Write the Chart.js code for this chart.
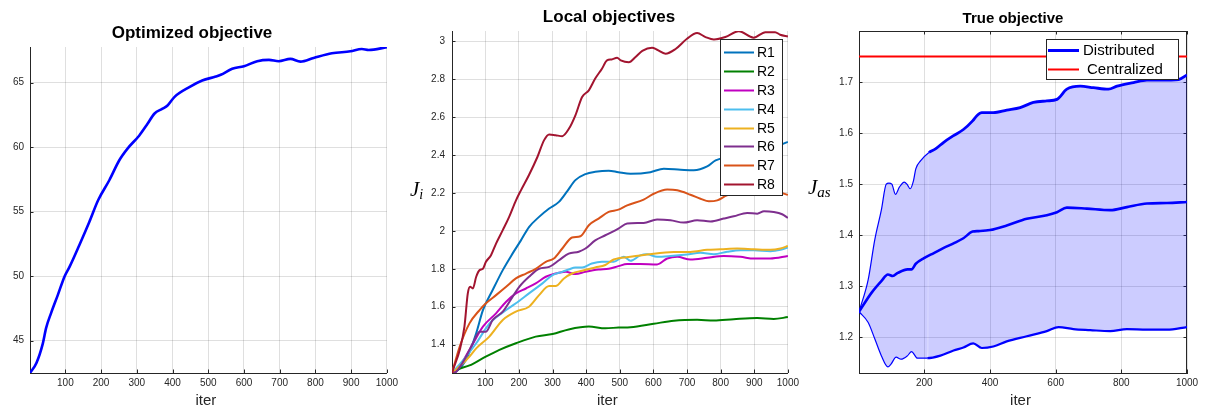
<!DOCTYPE html>
<html><head><meta charset="utf-8">
<script src="https://cdn.jsdelivr.net/npm/chart.js@4.4.1/dist/chart.umd.min.js"></script>
<style>
html,body{margin:0;padding:0;background:#fff;width:1205px;height:407px;overflow:hidden;position:relative}
.box{position:absolute;top:0;height:407px}
canvas{display:block}
</style></head><body>
<div class="box" style="left:-4px;width:406px"><canvas id="c1"></canvas></div>
<div class="box" style="left:400px;width:403px"><canvas id="c2"></canvas></div>
<div class="box" style="left:800px;width:403px"><canvas id="c3"></canvas></div>
<script>
// ---------------- data ----------------
const titleLeft = 'Optimized objective';
const titleMid = 'Local objectives';
const titleRight = 'True objective';
const xLabel = 'iter';

const leftIter = [1, 19, 37, 46, 60, 79, 98, 112, 139, 167, 192, 223, 251, 274, 307, 330, 349, 372, 386, 405, 447, 483, 521, 535, 567, 600, 637, 670, 697, 730, 758, 795, 846, 898, 930, 949, 1000];
const leftObj = [42.5, 43.28, 44.8, 45.98, 47.14, 48.55, 50.0, 50.74, 52.4, 54.2, 55.9, 57.43, 58.98, 59.88, 60.9, 61.8, 62.58, 62.97, 63.22, 63.87, 64.64, 65.15, 65.46, 65.6, 66.06, 66.26, 66.65, 66.75, 66.65, 66.83, 66.62, 66.9, 67.26, 67.42, 67.6, 67.52, 67.73];

const seriesNames = ['R1', 'R2', 'R3', 'R4', 'R5', 'R6', 'R7', 'R8'];
const r1Iter = [1, 14, 43, 73, 93, 122, 152, 181, 206, 230, 260, 290, 319, 344, 368, 398, 427, 467, 496, 532, 591, 631, 681, 720, 760, 785, 830, 880, 930, 977, 1000];
const r1Val = [1.25, 1.258, 1.32, 1.46, 1.582, 1.688, 1.793, 1.88, 1.95, 2.02, 2.074, 2.118, 2.153, 2.21, 2.268, 2.30, 2.312, 2.318, 2.31, 2.302, 2.31, 2.328, 2.323, 2.32, 2.34, 2.372, 2.39, 2.41, 2.43, 2.453, 2.47];
const r2Iter = [1, 23, 53, 93, 142, 191, 250, 300, 348, 408, 457, 496, 532, 601, 661, 730, 780, 839, 909, 958, 1000];
const r2Val = [1.25, 1.272, 1.29, 1.328, 1.372, 1.407, 1.442, 1.456, 1.48, 1.495, 1.486, 1.49, 1.492, 1.51, 1.526, 1.531, 1.527, 1.534, 1.54, 1.535, 1.545];
const r3Iter = [1, 14, 53, 93, 132, 162, 191, 221, 250, 280, 309, 339, 368, 398, 437, 467, 496, 522, 561, 611, 641, 671, 710, 760, 809, 859, 899, 948, 1000];
const r3Val = [1.25, 1.262, 1.372, 1.495, 1.565, 1.626, 1.67, 1.696, 1.723, 1.758, 1.775, 1.784, 1.772, 1.784, 1.796, 1.80, 1.814, 1.825, 1.825, 1.823, 1.854, 1.863, 1.849, 1.858, 1.868, 1.863, 1.854, 1.854, 1.867];
const r4Iter = [1, 43, 73, 112, 152, 191, 230, 270, 300, 329, 348, 368, 388, 417, 447, 482, 512, 532, 561, 581, 611, 651, 700, 740, 780, 819, 859, 899, 948, 978, 1000];
const r4Val = [1.25, 1.337, 1.407, 1.51, 1.57, 1.618, 1.67, 1.723, 1.767, 1.784, 1.796, 1.807, 1.807, 1.828, 1.837, 1.837, 1.863, 1.842, 1.871, 1.877, 1.863, 1.867, 1.875, 1.884, 1.877, 1.89, 1.898, 1.898, 1.893, 1.90, 1.912];
const r5Iter = [1, 33, 53, 73, 112, 152, 191, 230, 260, 290, 309, 334, 358, 388, 427, 457, 482, 532, 581, 661, 710, 760, 800, 849, 899, 948, 978, 1000];
const r5Val = [1.25, 1.30, 1.337, 1.38, 1.442, 1.53, 1.574, 1.60, 1.661, 1.709, 1.709, 1.749, 1.775, 1.79, 1.807, 1.82, 1.849, 1.863, 1.875, 1.889, 1.889, 1.90, 1.903, 1.907, 1.903, 1.90, 1.907, 1.92];
const r6Iter = [1, 14, 43, 63, 83, 102, 122, 152, 181, 201, 230, 260, 290, 319, 348, 378, 398, 427, 457, 496, 522, 571, 611, 651, 690, 730, 770, 809, 839, 879, 909, 929, 958, 983, 1000];
const r6Val = [1.25, 1.258, 1.337, 1.407, 1.468, 1.468, 1.53, 1.574, 1.652, 1.705, 1.758, 1.80, 1.81, 1.845, 1.88, 1.89, 1.907, 1.95, 1.977, 2.012, 2.039, 2.042, 2.06, 2.056, 2.044, 2.056, 2.05, 2.065, 2.077, 2.095, 2.091, 2.104, 2.10, 2.088, 2.068];
const r7Iter = [1, 24, 53, 83, 102, 132, 162, 191, 221, 250, 280, 304, 329, 358, 383, 408, 437, 467, 496, 522, 571, 601, 641, 671, 710, 740, 765, 790, 819, 860, 900, 940, 978, 1000];
const r7Val = [1.25, 1.39, 1.512, 1.582, 1.618, 1.661, 1.705, 1.749, 1.775, 1.80, 1.837, 1.854, 1.907, 1.965, 1.972, 2.03, 2.065, 2.10, 2.112, 2.135, 2.165, 2.196, 2.218, 2.214, 2.191, 2.17, 2.156, 2.161, 2.188, 2.20, 2.205, 2.20, 2.20, 2.19];
const r8Iter = [1, 4, 24, 38, 48, 55, 63, 73, 83, 93, 102, 117, 132, 152, 171, 191, 206, 230, 255, 275, 290, 309, 329, 349, 368, 388, 408, 427, 447, 462, 476, 492, 503, 527, 547, 567, 596, 611, 636, 666, 700, 730, 755, 780, 814, 854, 898, 933, 962, 977, 1000];
const r8Val = [1.25, 1.267, 1.372, 1.495, 1.67, 1.705, 1.696, 1.758, 1.793, 1.80, 1.837, 1.872, 1.933, 2.004, 2.074, 2.16, 2.214, 2.295, 2.39, 2.479, 2.509, 2.505, 2.50, 2.54, 2.61, 2.707, 2.742, 2.804, 2.856, 2.90, 2.905, 2.914, 2.90, 2.89, 2.918, 2.95, 2.967, 2.956, 2.935, 2.96, 3.014, 3.044, 3.023, 3.01, 3.023, 3.054, 3.02, 3.049, 3.049, 3.035, 3.026];

const distLabel = 'Distributed';
const centLabel = 'Centralized';
const upIter = [1, 29, 49, 69, 84, 92, 101, 112, 124, 139, 147, 157, 167, 174, 189, 214, 234, 259, 289, 319, 347, 360, 375, 410, 451, 492, 532, 573, 604, 634, 675, 715, 761, 787, 837, 878, 919, 975, 1000];
const upVal = [1.25, 1.313, 1.391, 1.449, 1.50, 1.502, 1.50, 1.48, 1.494, 1.504, 1.50, 1.491, 1.507, 1.53, 1.546, 1.562, 1.569, 1.582, 1.595, 1.607, 1.624, 1.634, 1.64, 1.64, 1.645, 1.65, 1.66, 1.663, 1.666, 1.686, 1.692, 1.689, 1.686, 1.692, 1.699, 1.704, 1.704, 1.705, 1.714];
const meanIter = [1, 39, 69, 89, 104, 119, 149, 161, 174, 199, 229, 259, 289, 319, 347, 365, 400, 451, 512, 573, 604, 634, 695, 766, 817, 878, 939, 1000];
const meanVal = [1.25, 1.287, 1.31, 1.323, 1.32, 1.326, 1.333, 1.333, 1.344, 1.355, 1.365, 1.375, 1.384, 1.394, 1.407, 1.408, 1.41, 1.419, 1.432, 1.439, 1.445, 1.454, 1.452, 1.449, 1.455, 1.462, 1.463, 1.465];
const lowIter = [1, 29, 49, 69, 89, 99, 114, 129, 149, 161, 179, 209, 249, 289, 319, 349, 375, 410, 451, 512, 573, 609, 654, 705, 766, 817, 878, 939, 1000];
const lowVal = [1.25, 1.229, 1.197, 1.164, 1.142, 1.148, 1.161, 1.157, 1.164, 1.172, 1.159, 1.159, 1.164, 1.174, 1.18, 1.188, 1.179, 1.182, 1.192, 1.202, 1.212, 1.22, 1.216, 1.214, 1.212, 1.216, 1.215, 1.215, 1.22];
const centIter = [1, 1000];
const centVal = [1.75, 1.75];

const leftXTicks = [100, 200, 300, 400, 500, 600, 700, 800, 900, 1000];
const leftYTicks = [45, 50, 55, 60, 65];
const midXTicks = [100, 200, 300, 400, 500, 600, 700, 800, 900, 1000];
const midYTicks = [1.4, 1.6, 1.8, 2, 2.2, 2.4, 2.6, 2.8, 3];
const rightXTicks = [200, 400, 600, 800, 1000];
const rightYTicks = [1.2, 1.3, 1.4, 1.5, 1.6, 1.7];

// ---------------- style / helpers ----------------
const FAM = "'Liberation Sans', Arial, Helvetica, sans-serif";
const AX = '#262626';
const GRID = 'rgba(38,38,38,0.15)';
Chart.defaults.font.family = FAM;
Chart.defaults.font.size = 10;
Chart.defaults.color = AX;

const pts = (xs, ys) => xs.map((x, i) => ({x: x, y: ys[i]}));

function axes(xr, xt, yr, yt, yw, ypad) {
  const mk = (ticksArr, fit, pad, r) => ({
    type: 'linear', min: r[0], max: r[1],
    grid: {color: GRID, drawTicks: false, lineWidth: 1},
    border: {display: true, color: AX, width: 1},
    afterBuildTicks: s => { s.ticks = ticksArr.map(v => ({value: v})); },
    afterFit: fit,
    ticks: {padding: pad, autoSkip: false, maxRotation: 0, color: AX, font: {size: 10}, callback: v => String(v)}
  });
  return {
    x: mk(xt, s => { s.height = 34; }, 4, xr),
    y: mk(yt, s => { s.width = yw; }, ypad, yr)
  };
}

const frame = {
  id: 'frame',
  beforeDatasetsDraw(chart, args, o) {
    const ctx = chart.ctx, a = chart.chartArea, x = chart.scales.x, y = chart.scales.y;
    const L = o.tick;
    ctx.save();
    ctx.strokeStyle = AX; ctx.lineWidth = 1;
    ctx.beginPath();
    x.ticks.forEach(t => {
      const p = Math.round(x.getPixelForValue(t.value)) + 0.5;
      ctx.moveTo(p, a.bottom); ctx.lineTo(p, a.bottom - L);
      if (o.box) { ctx.moveTo(p, a.top); ctx.lineTo(p, a.top + L); }
    });
    y.ticks.forEach(t => {
      const p = Math.round(y.getPixelForValue(t.value)) + 0.5;
      ctx.moveTo(a.left, p); ctx.lineTo(a.left + L, p);
      if (o.box) { ctx.moveTo(a.right, p); ctx.lineTo(a.right - L, p); }
    });
    if (o.box) {
      const r = Math.round(a.right) - 0.5, tp = Math.round(a.top) + 0.5;
      ctx.moveTo(a.left, tp); ctx.lineTo(a.right, tp);
      ctx.moveTo(r, a.top); ctx.lineTo(r, a.bottom);
    }
    ctx.stroke();
    ctx.restore();
  },
  afterDraw(chart, args, o) {
    const ctx = chart.ctx, a = chart.chartArea;
    ctx.save();
    ctx.fillStyle = AX;
    ctx.font = o.xSize + 'px ' + FAM;
    ctx.textAlign = 'center';
    ctx.textBaseline = 'alphabetic';
    ctx.fillText(o.xTitle, (a.left + a.right) / 2 + o.xDx, o.xBase);
    ctx.restore();
  }
};

const boxLegend = {
  id: 'boxLegend',
  afterDraw(chart, args, o) {
    if (!o.show) return;
    const ctx = chart.ctx;
    ctx.save();
    ctx.fillStyle = '#fff';
    ctx.fillRect(o.x, o.y, o.w, o.h);
    ctx.strokeStyle = '#262626'; ctx.lineWidth = 1;
    ctx.strokeRect(o.x + 0.5, o.y + 0.5, o.w, o.h);
    ctx.font = o.size + 'px ' + FAM;
    ctx.textBaseline = 'middle';
    ctx.textAlign = 'left';
    let row = 0;
    chart.data.datasets.forEach(ds => {
      if (!ds.label) return;
      const cy = Math.round(o.y + o.first + row * o.rowH) + 0.5;
      ctx.strokeStyle = ds.borderColor; ctx.lineWidth = ds.legendWidth || 2;
      ctx.beginPath(); ctx.moveTo(o.x + o.l0, cy); ctx.lineTo(o.x + o.l1, cy); ctx.stroke();
      ctx.fillStyle = '#000';
      ctx.fillText(ds.label, o.x + o.tx + (ds.legendDx || 0), cy + 0.5);
      row++;
    });
    ctx.restore();
  }
};

const mathLabel = {
  id: 'mathLabel',
  afterDraw(chart, args, o) {
    if (!o.show) return;
    const ctx = chart.ctx;
    ctx.save();
    ctx.fillStyle = '#000';
    ctx.textBaseline = 'alphabetic';
    ctx.textAlign = 'left';
    ctx.font = 'italic ' + o.size + "px 'Liberation Serif', 'DejaVu Serif', serif";
    ctx.fillText(o.main, o.x, o.y);
    const w = ctx.measureText(o.main).width;
    ctx.font = 'italic ' + o.subSize + "px 'Liberation Serif', 'DejaVu Serif', serif";
    ctx.fillText(o.sub, o.x + w + o.subDx, o.y + o.subDy);
    ctx.restore();
  }
};

const basePlugins = (title, tsize, tpad, fr, leg, ml) => ({
  legend: {display: false},
  tooltip: {enabled: false},
  title: {display: true, text: title, color: '#000', font: {size: tsize, weight: 'bold', lineHeight: 1.2, family: FAM}, padding: tpad},
  frame: fr,
  boxLegend: leg,
  mathLabel: ml
});

// ---------------- chart 1 ----------------
new Chart(document.getElementById('c1'), {
  type: 'line',
  data: {datasets: [{
    data: pts(leftIter, leftObj), borderColor: '#0000FF', borderWidth: 2.6,
    pointRadius: 0, cubicInterpolationMode: 'monotone', fill: false
  }]},
  options: {
    responsive: true, maintainAspectRatio: false, animation: false,
    layout: {padding: {left: 0, right: 14, top: 0, bottom: 0}},
    plugins: basePlugins(titleLeft, 17, {top: 22.8, bottom: 3.8},
      {tick: 3.5, box: false, xTitle: xLabel, xDx: -2.5, xBase: 404.5, xSize: 15},
      {show: false}, {show: false}),
    scales: axes([1, 1000], leftXTicks, [42.5, 67.75], leftYTicks, 34, 6)
  },
  plugins: [frame, boxLegend, mathLabel]
});

// ---------------- chart 2 ----------------
const midColors = ['#0072BD', '#008000', '#C000C0', '#4DBEEE', '#EDB120', '#7E2F8E', '#D95319', '#A2142F'];
const midIters = [r1Iter, r2Iter, r3Iter, r4Iter, r5Iter, r6Iter, r7Iter, r8Iter];
const midVals = [r1Val, r2Val, r3Val, r4Val, r5Val, r6Val, r7Val, r8Val];
new Chart(document.getElementById('c2'), {
  type: 'line',
  data: {datasets: seriesNames.map((n, i) => ({
    label: n, data: pts(midIters[i], midVals[i]), borderColor: midColors[i], borderWidth: 2,
    legendWidth: 2, pointRadius: 0, cubicInterpolationMode: 'monotone', fill: false, order: 8 - i
  }))},
  options: {
    responsive: true, maintainAspectRatio: false, animation: false,
    layout: {padding: {left: 29, right: 14, top: 0, bottom: 0}},
    plugins: basePlugins(titleMid, 17, {top: 6.8, bottom: 3.8},
      {tick: 3.5, box: false, xTitle: xLabel, xDx: -12.5, xBase: 405, xSize: 15},
      {show: true, x: 320, y: 39, w: 62, h: 156, first: 12.7, rowH: 18.95, l0: 4, l1: 34, tx: 37, size: 14},
      {show: true, main: 'J', sub: 'i', x: 10, y: 196, size: 21, subSize: 14, subDx: 0, subDy: 3}),
    scales: axes([1, 1000], midXTicks, [1.25, 3.055], midYTicks, 23, 7)
  },
  plugins: [frame, boxLegend, mathLabel]
});

// ---------------- chart 3 ----------------
const thickAfter = (x0, thin, thick) => ({borderWidth: c => (c.p0.parsed.x >= x0 ? thick : thin)});
new Chart(document.getElementById('c3'), {
  type: 'line',
  data: {datasets: [
    {data: pts(lowIter, lowVal), borderColor: '#0000FF', borderWidth: 1.6, pointRadius: 0,
     cubicInterpolationMode: 'monotone', fill: false, order: 3, segment: thickAfter(180, 1.2, 2.2)},
    {data: pts(upIter, upVal), borderColor: '#0000FF', borderWidth: 1.6, pointRadius: 0,
     cubicInterpolationMode: 'monotone', fill: {target: 0}, backgroundColor: 'rgba(0,0,255,0.2)', order: 4,
     segment: thickAfter(190, 1.2, 2.8)},
    {label: distLabel, data: pts(meanIter, meanVal), borderColor: '#0000FF', borderWidth: 2.6, legendWidth: 3,
     pointRadius: 0, cubicInterpolationMode: 'monotone', fill: false, order: 2},
    {label: centLabel, data: pts(centIter, centVal), borderColor: '#FF0000', borderWidth: 2, legendWidth: 2,
     legendDx: 4, pointRadius: 0, fill: false, order: 1}
  ]},
  options: {
    responsive: true, maintainAspectRatio: false, animation: false,
    layout: {padding: {left: 39, right: 16, top: 0, bottom: 0}},
    plugins: basePlugins(titleRight, 15, {top: 9.5, bottom: 3.5},
      {tick: 3.5, box: true, xTitle: xLabel, xDx: -2.5, xBase: 405, xSize: 15},
      {show: true, x: 246, y: 39, w: 132, h: 40, first: 10.7, rowH: 19, l0: 2, l1: 33, tx: 37, size: 15},
      {show: true, main: 'J', sub: 'as', x: 8, y: 194, size: 21, subSize: 15, subDx: 0, subDy: 3}),
    scales: axes([1, 1000], rightXTicks, [1.13, 1.8], rightYTicks, 20, 6)
  },
  plugins: [frame, boxLegend, mathLabel]
});
</script>
</body></html>
